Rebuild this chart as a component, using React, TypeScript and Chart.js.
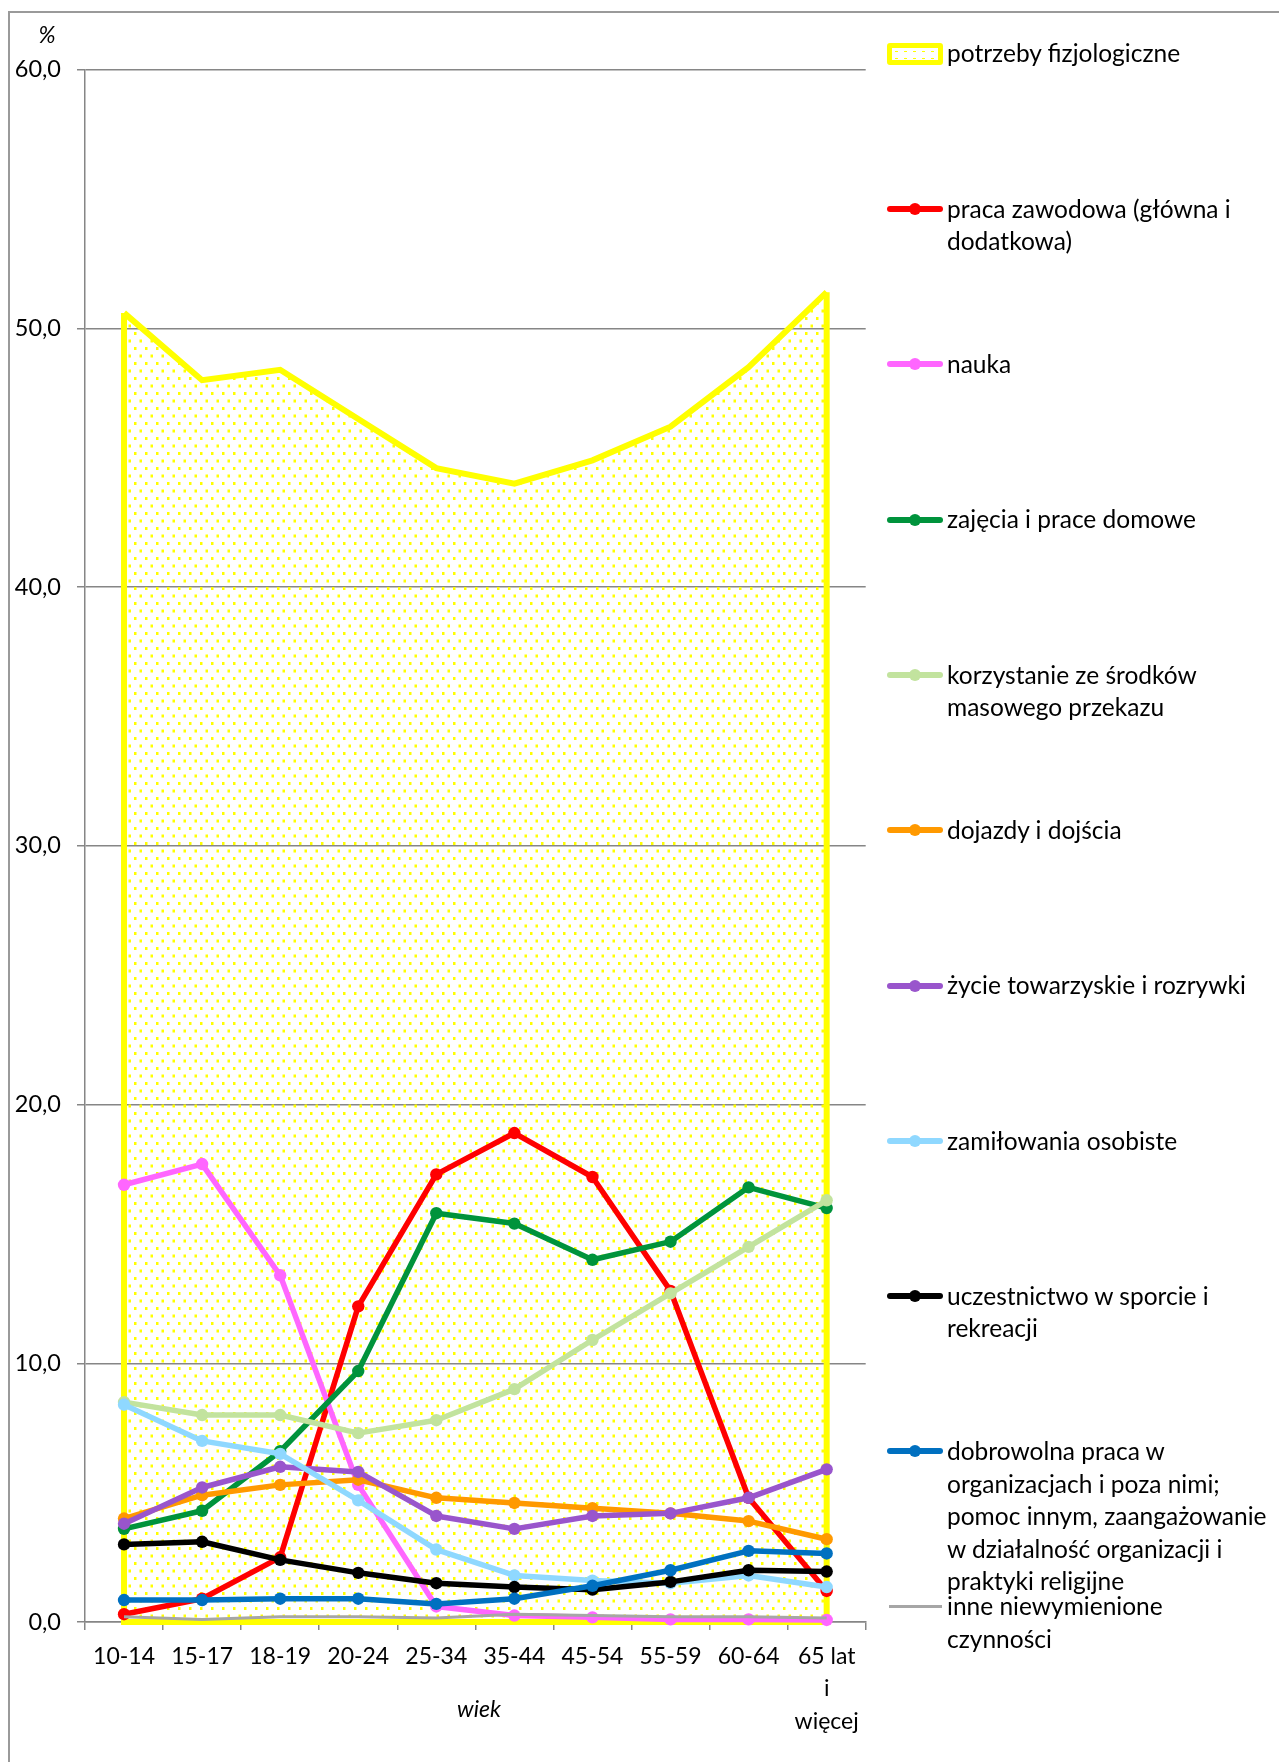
import React, { useEffect, useRef } from "react";
import { Chart, registerables } from "chart.js";

Chart.register(...registerables);

// ---- data ----
const ageGroups: (string | string[])[] = [
  "10-14", "15-17", "18-19", "20-24", "25-34", "35-44", "45-54", "55-59", "60-64",
  ["65 lat", "i", "więcej"],
];

const potrzebyFizjologiczne = [50.6, 48.0, 48.4, 46.5, 44.6, 44.0, 44.9, 46.2, 48.5, 51.4];
const pracaZawodowa = [0.3, 0.9, 2.5, 12.2, 17.3, 18.9, 17.2, 12.8, 4.8, 1.2];
const nauka = [16.9, 17.7, 13.4, 5.3, 0.6, 0.25, 0.18, 0.1, 0.1, 0.08];
const zajeciaDomowe = [3.6, 4.3, 6.6, 9.7, 15.8, 15.4, 14.0, 14.7, 16.8, 16.0];
const srodkiPrzekazu = [8.5, 8.0, 8.0, 7.3, 7.8, 9.0, 10.9, 12.7, 14.5, 16.3];
const dojazdy = [4.0, 4.9, 5.3, 5.5, 4.8, 4.6, 4.4, 4.2, 3.9, 3.2];
const zycieTowarzyskie = [3.8, 5.2, 6.0, 5.8, 4.1, 3.6, 4.1, 4.2, 4.8, 5.9];
const zamilowania = [8.4, 7.0, 6.5, 4.7, 2.8, 1.8, 1.6, 1.5, 1.8, 1.35];
const sport = [3.0, 3.1, 2.4, 1.9, 1.5, 1.35, 1.25, 1.55, 2.0, 1.95];
const dobrowolnaPraca = [0.85, 0.85, 0.9, 0.9, 0.7, 0.9, 1.4, 2.0, 2.75, 2.65];
const inneCzynnosci = [0.2, 0.1, 0.2, 0.2, 0.15, 0.3, 0.25, 0.2, 0.2, 0.15];

const seriesNames: string[][] = [
  ["potrzeby fizjologiczne"],
  ["praca zawodowa (główna i", "dodatkowa)"],
  ["nauka"],
  ["zajęcia i prace domowe"],
  ["korzystanie ze środków", "masowego przekazu"],
  ["dojazdy i dojścia"],
  ["życie towarzyskie i rozrywki"],
  ["zamiłowania osobiste"],
  ["uczestnictwo w sporcie i", "rekreacji"],
  [
    "dobrowolna praca w",
    "organizacjach i poza nimi;",
    "pomoc innym, zaangażowanie",
    "w działalność organizacji i",
    "praktyki religijne",
  ],
  ["inne niewymienione", "czynności"],
];

const seriesValues = [
  potrzebyFizjologiczne,
  pracaZawodowa,
  nauka,
  zajeciaDomowe,
  srodkiPrzekazu,
  dojazdy,
  zycieTowarzyskie,
  zamilowania,
  sport,
  dobrowolnaPraca,
  inneCzynnosci,
];

// ---- styles ----
const seriesColors = [
  "#FFFF00",
  "#FF0000",
  "#FF66FF",
  "#00933C",
  "#C2E39E",
  "#FF9900",
  "#9955CC",
  "#8FD8FF",
  "#000000",
  "#0070C0",
  "#A6A6A6",
];

const AXIS_GRAY = "#868686";
const FONT = "Lato, 'Noto Sans', sans-serif";

function makeDotPattern(): CanvasPattern | string {
  const c = document.createElement("canvas");
  c.width = 11;
  c.height = 15;
  const g = c.getContext("2d");
  if (!g) return "rgba(255,255,0,0.15)";
  g.fillStyle = "#FFFF00";
  g.fillRect(2, 2, 2.5, 3);
  g.fillRect(7.5, 9.5, 2.5, 3);
  const p = g.createPattern(c, "repeat");
  return p || "rgba(255,255,0,0.15)";
}

const areaEdges = {
  id: "areaEdges",
  afterDatasetDraw(chart: any, args: any) {
    if (args.index !== 0) return;
    const pts = args.meta.data;
    if (!pts || pts.length < 2) return;
    const first = pts[0];
    const last = pts[pts.length - 1];
    const y0 = chart.scales.y.getPixelForValue(0);
    const ctx = chart.ctx;
    ctx.save();
    ctx.strokeStyle = seriesColors[0];
    ctx.lineWidth = 6;
    ctx.lineJoin = "miter";
    ctx.beginPath();
    ctx.moveTo(first.x, first.y);
    ctx.lineTo(first.x, y0);
    ctx.lineTo(last.x, y0);
    ctx.lineTo(last.x, last.y);
    ctx.stroke();
    ctx.restore();
  },
};

export default function App() {
  const canvasRef = useRef<HTMLCanvasElement | null>(null);

  useEffect(() => {
    const canvas = canvasRef.current;
    if (!canvas) return;
    const pattern = makeDotPattern();

    const datasets: any[] = seriesValues.map((vals, i) => {
      const label = seriesNames[i].join(" ");
      if (i === 0) {
        return {
          label,
          data: vals,
          borderColor: seriesColors[0],
          backgroundColor: pattern,
          borderWidth: 6,
          fill: "origin",
          pointRadius: 0,
          tension: 0,
          order: 100,
          clip: false,
          borderJoinStyle: "miter",
        };
      }
      const isOther = i === seriesValues.length - 1;
      return {
        label,
        data: vals,
        borderColor: seriesColors[i],
        backgroundColor: seriesColors[i],
        pointBackgroundColor: seriesColors[i],
        pointBorderColor: seriesColors[i],
        borderWidth: isOther ? 3 : 5.5,
        pointRadius: isOther ? 0 : 6.2,
        pointBorderWidth: 0,
        fill: false,
        tension: 0,
        order: 50 - i,
        clip: false,
        borderJoinStyle: "round",
      };
    });

    const chart = new Chart(canvas, {
      type: "line",
      data: { labels: ageGroups as any, datasets },
      plugins: [areaEdges],
      options: {
        animation: false,
        responsive: false,
        maintainAspectRatio: false,
        layout: { padding: { left: 0, top: 69.7, right: 1279 - 865.7, bottom: 0 } },
        plugins: {
          legend: { display: false },
          tooltip: { enabled: false },
          title: { display: false },
        },
        scales: {
          x: {
            type: "category",
            offset: true,
            grid: {
              offset: true,
              drawOnChartArea: false,
              drawTicks: true,
              tickLength: 8,
              color: AXIS_GRAY,
              lineWidth: 1.5,
            },
            border: { display: true, color: AXIS_GRAY, width: 1.5 },
            ticks: {
              color: "#000",
              font: { family: FONT, size: 23, lineHeight: 32.5 / 23 },
              padding: 10,
              maxRotation: 0,
              minRotation: 0,
              autoSkip: false,
            },
            afterFit: (s: any) => {
              s.height = 140;
            },
          },
          y: {
            min: 0,
            max: 60,
            ticks: {
              stepSize: 10,
              color: "#000",
              font: { family: FONT, size: 23.5 },
              padding: 16,
              callback: (v: any) => Number(v).toFixed(1).replace(".", ","),
            },
            grid: {
              color: AXIS_GRAY,
              lineWidth: 1.5,
              tickLength: 8,
              drawTicks: true,
            },
            border: { display: true, color: AXIS_GRAY, width: 1.5 },
            afterFit: (s: any) => {
              s.width = 85;
            },
          },
        },
      } as any,
    });

    return () => {
      chart.destroy();
    };
  }, []);

  const legendTop = 53.7;
  const legendStep = 155.3;

  return (
    <div
      style={{
        position: "fixed",
        left: 0,
        top: 0,
        width: 1279,
        height: 1762,
        overflow: "hidden",
        background: "#fff",
        fontFamily: FONT,
      }}
    >
      <div
        style={{
          position: "absolute",
          left: 8,
          top: 11,
          width: 1400,
          height: 2000,
          border: "2px solid #9a9a9a",
          boxSizing: "border-box",
        }}
      />
      <canvas
        ref={canvasRef}
        width={1279}
        height={1762}
        style={{ position: "absolute", left: 0, top: 0, width: 1279, height: 1762 }}
      />
      <div
        style={{
          position: "absolute",
          left: 47,
          top: 34,
          transform: "translate(-50%, -50%)",
          fontSize: 23,
          fontStyle: "italic",
          lineHeight: "26px",
        }}
      >
        %
      </div>
      <div
        style={{
          position: "absolute",
          left: 479,
          top: 1708,
          transform: "translate(-50%, -50%)",
          fontSize: 23,
          fontStyle: "italic",
          lineHeight: "26px",
        }}
      >
        wiek
      </div>
      {seriesNames.map((lines, i) => {
        const cy = legendTop + legendStep * i;
        const color = seriesColors[i];
        let symbol: React.ReactNode;
        if (i === 0) {
          symbol = (
            <div
              style={{
                position: "absolute",
                left: 887,
                top: cy - 11,
                width: 56,
                height: 22,
                boxSizing: "border-box",
                border: `5px solid ${color}`,
                borderRadius: 3,
                background: "#fff",
                backgroundImage: "radial-gradient(#FFFF00 1px, transparent 1.3px)",
                backgroundSize: "9px 7px",
              }}
            />
          );
        } else if (i === seriesNames.length - 1) {
          symbol = (
            <div
              style={{
                position: "absolute",
                left: 889,
                top: cy - 1.5,
                width: 53,
                height: 3,
                background: color,
              }}
            />
          );
        } else {
          symbol = (
            <>
              <div
                style={{
                  position: "absolute",
                  left: 887,
                  top: cy - 3,
                  width: 56,
                  height: 6,
                  background: color,
                  borderRadius: 3,
                }}
              />
              <div
                style={{
                  position: "absolute",
                  left: 915 - 6,
                  top: cy - 6,
                  width: 12,
                  height: 12,
                  background: color,
                  borderRadius: "50%",
                }}
              />
            </>
          );
        }
        return (
          <React.Fragment key={i}>
            {symbol}
            <div
              style={{
                position: "absolute",
                left: 947,
                top: cy - 16.25,
                fontSize: 24.5,
                lineHeight: "32.5px",
                whiteSpace: "nowrap",
                color: "#000",
              }}
            >
              {lines.map((l, j) => (
                <div key={j}>{l}</div>
              ))}
            </div>
          </React.Fragment>
        );
      })}
    </div>
  );
}
